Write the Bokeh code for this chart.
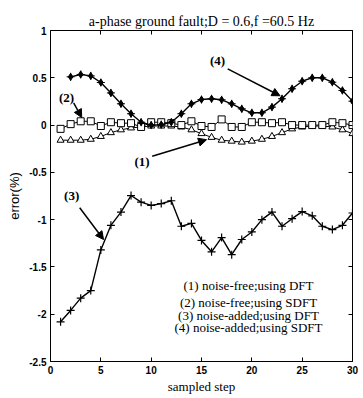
from bokeh.plotting import figure
from bokeh.models import (LinearAxis, FixedTicker, Label, Arrow, NormalHead,
                          ColumnDataSource)
from bokeh.embed import file_html
from bokeh.resources import INLINE

# Error of the estimated frequency, per sampled step
steps = list(range(1, 31))
steps_sdft_noisy = list(range(2, 31))

err_dft_clean = [-0.16, -0.16, -0.16, -0.15, -0.12, -0.08, -0.05, -0.03, -0.02, -0.01,
                 -0.01, -0.01, -0.02, -0.05, -0.09, -0.13, -0.16, -0.17, -0.18, -0.17,
                 -0.15, -0.12, -0.08, -0.04, -0.02, -0.01, -0.01, -0.02, -0.05, -0.09]
err_sdft_clean = [-0.04, 0.01, 0.04, 0.04, -0.01, 0.03, 0.02, 0.02, -0.02, 0.03,
                  0.03, 0.02, 0.0, 0.04, -0.01, -0.02, 0.06, -0.02, -0.02, 0.03,
                  0.03, 0.02, 0.03, 0.0, 0.0, 0.0, 0.0, 0.03, 0.02, 0.0]
err_dft_noisy = [-2.08, -1.96, -1.83, -1.75, -1.32, -1.06, -0.92, -0.745, -0.815, -0.85,
                 -0.83, -0.80, -1.07, -1.04, -1.22, -1.34, -1.19, -1.37, -1.21, -1.13,
                 -1.0, -0.92, -1.07, -0.99, -0.915, -0.96, -1.07, -1.105, -1.06, -0.93]
err_sdft_noisy = [0.51, 0.535, 0.52, 0.45, 0.34, 0.225, 0.12, 0.03, 0.0, 0.005,
                  0.03, 0.12, 0.225, 0.27, 0.278, 0.267, 0.225, 0.172, 0.13, 0.13,
                  0.19, 0.278, 0.384, 0.464, 0.5, 0.5, 0.453, 0.366, 0.253]

x_ticks = [0, 5, 10, 15, 20, 25, 30]
y_ticks = [-2.5, -2, -1.5, -1, -0.5, 0, 0.5, 1]
y_tick_labels = ["-2.5", "-2", "-1.5", "-1", "-0.5", "0", "0.5", "1"]

legend_lines = ["(1) noise-free;using DFT",
                "(2) noise-free;using SDFT",
                "(3) noise-added;using DFT",
                "(4) noise-added;using SDFT"]

SERIF = "Liberation Serif"
SANS = "Liberation Sans"

p = figure(width=363, height=398, x_range=(0, 30), y_range=(-2.5, 1),
           output_backend="svg", toolbar_location=None,
           min_border_left=50, min_border_right=11,
           min_border_top=30, min_border_bottom=37,
           background_fill_color="white", border_fill_color="white")

p.title.text = "a-phase ground fault;D = 0.6,f =60.5 Hz"
p.title.text_font = SERIF
p.title.text_font_size = "14px"
p.title.text_font_style = "normal"
p.title.text_color = "black"
p.title.align = "center"
p.title.standoff = 4

p.grid.visible = False
p.outline_line_color = "black"
p.outline_line_width = 1

for ax in (p.xaxis[0], p.yaxis[0]):
    ax.major_tick_in = 4
    ax.major_tick_out = 0
    ax.minor_tick_in = 0
    ax.minor_tick_out = 0
    ax.axis_line_color = "black"
    ax.major_tick_line_color = "black"
    ax.major_label_text_font = SANS
    ax.major_label_text_font_size = "10px"
    ax.major_label_text_font_style = "bold"
    ax.major_label_text_color = "black"
    ax.major_label_standoff = 4
    ax.axis_label_text_color = "black"

p.xaxis.ticker = FixedTicker(ticks=x_ticks)
p.yaxis.ticker = FixedTicker(ticks=y_ticks)
p.yaxis.major_label_overrides = dict(zip(y_ticks, y_tick_labels))
p.xaxis.axis_label = "sampled step"
p.xaxis.axis_label_text_font = SERIF
p.xaxis.axis_label_text_font_size = "13px"
p.xaxis.axis_label_text_font_style = "normal"
p.xaxis.axis_label_standoff = 2
p.yaxis.axis_label = "error(%)"
p.yaxis.axis_label_text_font = SANS
p.yaxis.axis_label_text_font_size = "13px"
p.yaxis.axis_label_text_font_style = "normal"
p.yaxis.axis_label_standoff = 4

# inward ticks on the top and right edges of the box (no labels there)
top_ax = LinearAxis(ticker=FixedTicker(ticks=x_ticks), major_tick_in=4, major_tick_out=0,
                    minor_tick_in=0, minor_tick_out=0, axis_line_color=None,
                    major_tick_line_color="black",
                    major_label_text_color=None, major_label_standoff=0)
right_ax = LinearAxis(ticker=FixedTicker(ticks=y_ticks), major_tick_in=4, major_tick_out=0,
                      minor_tick_in=0, minor_tick_out=0, axis_line_color=None,
                      major_tick_line_color="black",
                      major_label_text_color=None, major_label_standoff=0)
p.add_layout(top_ax, "above")
p.add_layout(right_ax, "right")

src_clean = ColumnDataSource(dict(x=steps, dft=err_dft_clean, sdft=err_sdft_clean,
                                  dftn=err_dft_noisy))
src_noisy = ColumnDataSource(dict(x=steps_sdft_noisy, y=err_sdft_noisy))

# (1) noise-free, DFT: hollow triangles
p.line("x", "dft", source=src_clean, color="black", line_width=1)
p.scatter("x", "dft", source=src_clean, marker="triangle", size=7,
          fill_color="white", line_color="black", line_width=1)
# (2) noise-free, SDFT: hollow squares
p.line("x", "sdft", source=src_clean, color="black", line_width=1)
p.scatter("x", "sdft", source=src_clean, marker="square", size=7,
          fill_color="white", line_color="black", line_width=1)
# (3) noise-added, DFT: plus signs
p.line("x", "dftn", source=src_clean, color="black", line_width=1.4)
p.scatter("x", "dftn", source=src_clean, marker="cross", size=8,
          line_color="black", line_width=1.2)
# (4) noise-added, SDFT: filled diamonds with a cross
p.line("x", "y", source=src_noisy, color="black", line_width=1.4)
p.scatter("x", "y", source=src_noisy, marker="diamond", size=7,
          fill_color="black", line_color="black")
p.scatter("x", "y", source=src_noisy, marker="cross", size=8,
          line_color="black", line_width=1)

# curve callouts: label position and arrow tail/tip
callouts = [
    ("(4)", 16.6, 0.68, 17.6, 0.595, 22.8, 0.31),
    ("(2)", 1.6, 0.295, 2.3, 0.235, 3.1, 0.08),
    ("(1)", 9.1, -0.38, 10.1, -0.33, 15.5, -0.155),
    ("(3)", 2.1, -0.745, 2.9, -0.875, 5.27, -1.21),
]
for txt, lx, ly, x0, y0, x1, y1 in callouts:
    p.add_layout(Label(x=lx, y=ly, text=txt, text_font=SERIF, text_font_size="13px",
                       text_font_style="bold", text_align="center",
                       text_baseline="middle", text_color="black"))
    p.add_layout(Arrow(x_start=x0, y_start=y0, x_end=x1, y_end=y1,
                       line_color="black", line_width=1.5,
                       end=NormalHead(size=8, fill_color="black", line_color="black")))

# text legend block inside the axes
legend_y = [-1.696, -1.872, -2.013, -2.136]
for line_txt, ly in zip(legend_lines, legend_y):
    p.add_layout(Label(x=19.67, y=ly, text=line_txt, text_font=SERIF,
                       text_font_size="13px", text_align="center",
                       text_baseline="middle", text_color="black"))

open("out.html", "w").write(file_html(p, INLINE))
